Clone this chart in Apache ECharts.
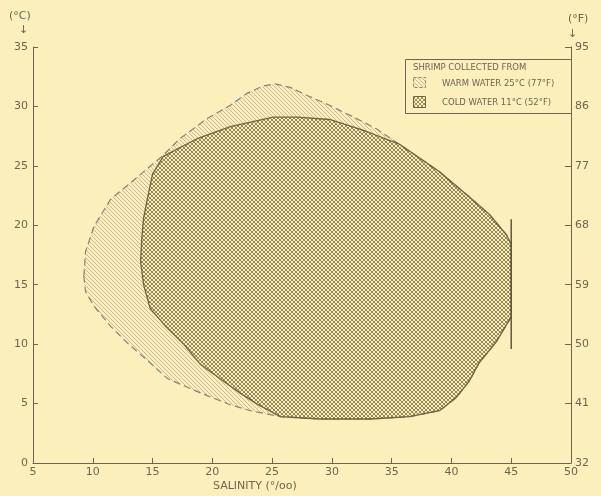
<!DOCTYPE html>
<html>
<head>
<meta charset="utf-8">
<script src="https://cdn.jsdelivr.net/npm/echarts@6/dist/echarts.min.js"></script>
<style>
  html, body { margin: 0; padding: 0; background: #fbefbb; }
  #chart { width: 601px; height: 496px; }
</style>
</head>
<body>
<div id="chart"></div>
<script>
// outline of the warm water (25°C) range: [salinity, temperature °C]
const warmPoints = [
  [9.25, 15.7], [9.4, 17.8], [10.1, 19.9], [11.5, 22.2], [13.2, 23.6], [14.6, 24.8],
  [15.9, 25.9], [17.3, 27.3], [19.6, 29.0], [21.5, 30.1], [22.9, 31.1], [24.2, 31.7],
  [25.25, 31.9], [26.5, 31.6], [28.2, 30.8], [29.8, 30.1], [32.6, 28.7], [33.75, 28.1],
  [36.25, 26.4], [39.0, 24.5], [41.25, 22.6], [43.2, 20.9], [44.6, 19.2], [45, 18.4],
  [45, 12.3], [43.75, 10.2], [42.3, 8.4], [41.5, 6.9], [40.4, 5.5], [39.0, 4.4],
  [36.5, 3.9], [33.2, 3.7], [29.0, 3.7], [25.7, 3.9], [23.2, 4.4], [21.5, 4.9],
  [19.0, 5.9], [16.25, 7.1], [14.6, 8.6], [12.9, 10.1], [11.5, 11.5], [10.1, 13.2],
  [9.4, 14.4]
]
// outline of the cold water (11°C) range
const coldPoints = [
  [15.9, 25.8], [18.75, 27.3], [21.5, 28.3], [25.1, 29.1], [27.1, 29.1], [29.8, 28.9],
  [32.6, 28.0], [35.7, 26.8], [39.0, 24.5], [41.25, 22.6], [43.2, 20.9], [44.6, 19.2],
  [45, 18.4], [45, 12.3], [43.75, 10.2], [42.3, 8.4], [41.5, 6.9], [40.4, 5.5],
  [39.0, 4.4], [36.5, 3.9], [33.2, 3.7], [29.0, 3.7], [25.7, 3.9], [23.75, 4.95],
  [22.3, 5.9], [20.9, 6.9], [19.0, 8.3], [17.6, 10.0], [16.1, 11.5], [14.8, 13.0],
  [14.25, 15.0], [14.0, 16.95], [14.1, 18.9], [14.25, 20.6], [14.6, 22.4], [15.0, 24.3]
]
// vertical marker at 45 ‰
const limitSalinity = [45, 45]
const limitTemp = [9.6, 20.5]
// right axis labels (°F)
const fahrenheitLabels = ['32', '41', '50', '59', '68', '77', '86', '95']

const ink = '#6b6650'
const font = 'DejaVu Sans'

// fill patterns
const makePattern = (draw) => {
  const c = document.createElement('canvas')
  c.width = 4
  c.height = 4
  draw(c.getContext('2d'))
  return { image: c, repeat: 'repeat' }
}
const hatch = makePattern((ctx) => {
  ctx.fillStyle = 'rgba(125,122,110,0.45)'
  for (let i = 0; i < 4; i++) ctx.fillRect(i, i, 1, 1)
})
const crossHatch = makePattern((ctx) => {
  ctx.fillStyle = 'rgba(118,106,56,0.72)'
  for (let i = 0; i < 4; i++) {
    ctx.fillRect(i, i, 1, 1)
    ctx.fillRect(i, 3 - i, 1, 1)
  }
})

const polygonRenderer = (points, style) => (params, api) => {
  if (params.dataIndex !== 0) return null
  return {
    type: 'polygon',
    shape: { points: points.map((p) => api.coord(p)) },
    style: style
  }
}

const chart = echarts.init(document.getElementById('chart'))

chart.setOption({
  backgroundColor: '#fbefbb',
  animation: false,
  grid: { left: 33, right: 30, top: 47, bottom: 33 },
  xAxis: {
    type: 'value',
    min: 5,
    max: 50,
    interval: 5,
    splitLine: { show: false },
    axisLine: { lineStyle: { color: ink, width: 1 } },
    axisTick: { inside: true, length: 5, lineStyle: { color: ink } },
    axisLabel: { color: ink, fontSize: 11, fontFamily: font, margin: 4 }
  },
  yAxis: [
    {
      type: 'value',
      min: 0,
      max: 35,
      interval: 5,
      splitLine: { show: false },
      axisLine: { show: true, lineStyle: { color: ink, width: 1 } },
      axisTick: { show: true, inside: true, length: 5, lineStyle: { color: ink } },
      axisLabel: { color: ink, fontSize: 11, fontFamily: font, margin: 5 }
    },
    {
      type: 'value',
      position: 'right',
      min: 0,
      max: 35,
      interval: 5,
      splitLine: { show: false },
      axisLine: { show: true, lineStyle: { color: ink, width: 1 } },
      axisTick: { show: true, inside: true, length: 6, lineStyle: { color: ink } },
      axisLabel: {
        color: ink,
        fontSize: 11,
        fontFamily: font,
        margin: 4,
        formatter: (v) => fahrenheitLabels[Math.round(v / 5)]
      }
    }
  ],
  series: [
    {
      name: 'WARM WATER 25°C (77°F)',
      type: 'custom',
      z: 2,
      data: warmPoints,
      renderItem: polygonRenderer(warmPoints, {
        fill: hatch,
        stroke: '#85837a',
        lineWidth: 1.2,
        lineDash: [7, 4]
      })
    },
    {
      name: 'COLD WATER 11°C (52°F)',
      type: 'custom',
      z: 3,
      data: coldPoints,
      renderItem: polygonRenderer(coldPoints, {
        fill: crossHatch,
        stroke: '#6f6640',
        lineWidth: 1.3
      })
    },
    {
      type: 'line',
      z: 4,
      symbol: 'none',
      data: limitSalinity.map((s, i) => [s, limitTemp[i]]),
      lineStyle: { color: '#5e5840', width: 1.5 }
    }
  ],
  graphic: [
    // axis titles
    { type: 'text', left: 9, top: 11, style: { text: '(°C)', fill: ink, font: '11px ' + font } },
    { type: 'text', left: 19, top: 25, style: { text: '↓', fill: ink, font: '11px ' + font } },
    { type: 'text', left: 568, top: 14, style: { text: '(°F)', fill: ink, font: '11px ' + font } },
    { type: 'text', left: 568, top: 29, style: { text: '↓', fill: ink, font: '11px ' + font } },
    { type: 'text', left: 213, top: 481, style: { text: 'SALINITY (°/oo)', fill: ink, font: '11px ' + font } },
    // legend box
    {
      type: 'rect',
      z: 10,
      shape: { x: 405.5, y: 59.5, width: 166, height: 54 },
      style: { fill: '#fbefbb', stroke: ink, lineWidth: 1 }
    },
    { type: 'text', z: 11, x: 413, y: 63, style: { text: 'SHRIMP COLLECTED FROM', fill: ink, font: '8.5px ' + font } },
    {
      type: 'rect',
      z: 11,
      shape: { x: 413.5, y: 77.5, width: 12, height: 10 },
      style: { fill: hatch, stroke: '#85837a', lineWidth: 1, lineDash: [3, 2] }
    },
    { type: 'text', z: 11, x: 442, y: 79, style: { text: 'WARM WATER 25°C (77°F)', fill: ink, font: '8.5px ' + font } },
    {
      type: 'rect',
      z: 11,
      shape: { x: 413.5, y: 96.5, width: 12, height: 11 },
      style: { fill: crossHatch, stroke: '#6f6640', lineWidth: 1 }
    },
    { type: 'text', z: 11, x: 442, y: 98, style: { text: 'COLD WATER 11°C (52°F)', fill: ink, font: '8.5px ' + font } }
  ]
})
</script>
</body>
</html>
